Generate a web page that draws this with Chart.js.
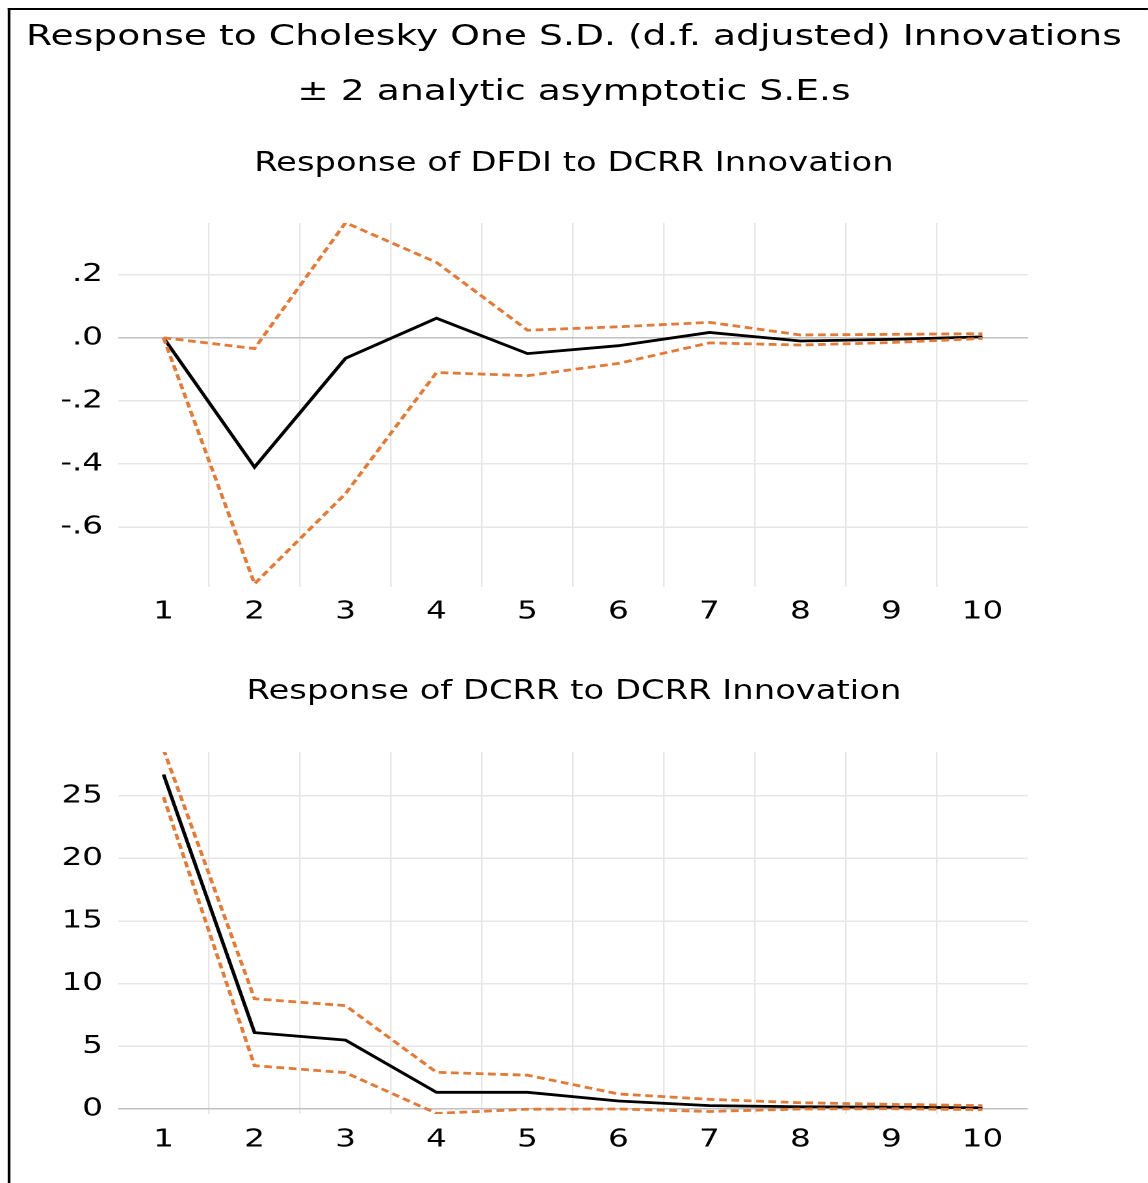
<!DOCTYPE html>
<html>
<head>
<meta charset="utf-8">
<script src="https://cdn.jsdelivr.net/npm/chart.js@4"></script>
<style>
  html, body { margin: 0; padding: 0; background: #fff; }
  body { width: 1148px; height: 1183px; overflow: hidden; }
  /* the reference is stretched sideways, so lay out narrow and scale */
  #page {
    position: absolute; left: 0; top: 0;
    width: 883px; height: 1183px;
    transform: scaleX(1.3); transform-origin: 0 0;
    font-family: "DejaVu Sans", sans-serif; color: #000;
  }
  #frame {
    position: absolute; left: 6px; top: 8px; right: 0; bottom: 0;
    border-left: 2px solid #000; border-top: 2px solid #000;
  }
  .title { position: absolute; left: 0; width: 883px; text-align: center; white-space: nowrap; }
  .box { position: absolute; left: 0; width: 883px; }
</style>
</head>
<body>
<div id="page">
  <div id="frame"></div>
  <div class="title" style="top:18px;font-size:29px;">Response to Cholesky One S.D. (d.f. adjusted) Innovations</div>
  <div class="title" style="top:73px;font-size:29px;">± 2 analytic asymptotic S.E.s</div>
  <div class="title" style="top:147px;font-size:26px;">Response of DFDI to DCRR Innovation</div>
  <div class="box" style="top:213px;height:427px;"><canvas id="topChart"></canvas></div>
  <div class="title" style="top:675px;font-size:26px;">Response of DCRR to DCRR Innovation</div>
  <div class="box" style="top:742px;height:441px;"><canvas id="bottomChart"></canvas></div>
</div>
<script>
// periods after the shock
const periods = ['1', '2', '3', '4', '5', '6', '7', '8', '9', '10'];

// Response of DFDI to DCRR
const dfdiResp  = [0.0, -0.41, -0.065, 0.062, -0.05, -0.025, 0.017, -0.01, -0.005, 0.003];
const dfdiUpper = [0.0, -0.034, 0.365, 0.239, 0.024, 0.035, 0.049, 0.009, 0.011, 0.013];
const dfdiLower = [0.0, -0.78, -0.494, -0.11, -0.12, -0.081, -0.016, -0.023, -0.015, -0.002];
const dfdiTicks = [-0.6, -0.4, -0.2, 0, 0.2];

// Response of DCRR to DCRR
const dcrrResp  = [26.7, 6.1, 5.5, 1.33, 1.33, 0.64, 0.27, 0.18, 0.15, 0.1];
const dcrrUpper = [28.7, 8.8, 8.25, 2.93, 2.7, 1.2, 0.77, 0.5, 0.37, 0.27];
const dcrrLower = [24.9, 3.46, 2.9, -0.35, -0.02, 0.0, -0.2, 0.0, 0.02, -0.05];
const dcrrTicks = [0, 5, 10, 15, 20, 25];

const FONT = { family: '"DejaVu Sans", sans-serif', size: 25 };
const ORANGE = '#e07b39';

function makeChart(canvasId, resp, upper, lower, yTicks, yMin, yMax, xAxisHeight, xPad, fmt) {
    const ctx = document.getElementById(canvasId).getContext('2d');
    return new Chart(ctx, {
        type: 'line',
        data: {
            labels: periods,
            datasets: [
                { data: upper, borderColor: ORANGE, borderWidth: 2.8, borderDash: [6, 3.5] },
                { data: lower, borderColor: ORANGE, borderWidth: 2.8, borderDash: [6, 3.5] },
                { data: resp, borderColor: '#000', borderWidth: 2.8 },
            ],
        },
        options: {
            responsive: true,
            maintainAspectRatio: false,
            devicePixelRatio: 2,
            animation: false,
            layout: { padding: { top: 10, right: 92.3, left: 0, bottom: 0 } },
            elements: { point: { radius: 0 }, line: { tension: 0 } },
            plugins: { legend: { display: false }, tooltip: { enabled: false } },
            scales: {
                x: {
                    type: 'category',
                    offset: true,
                    border: { display: false },
                    grid: {
                        offset: true,
                        drawTicks: false,
                        lineWidth: 1.2,
                        color: c => (c.type !== 'tick' || c.index === 0) ? 'rgba(0,0,0,0)' : '#e6e6e6',
                    },
                    ticks: { font: FONT, color: '#000', padding: xPad, maxRotation: 0, autoSkip: false },
                    afterFit: s => { s.height = xAxisHeight; s.paddingLeft = 0; s.paddingRight = 0; },
                },
                y: {
                    min: yMin,
                    max: yMax,
                    border: { display: false },
                    grid: {
                        drawTicks: false,
                        lineWidth: 1.5,
                        color: c => (c.tick && c.tick.value === 0) ? '#c0c0c0' : '#e6e6e6',
                    },
                    ticks: { font: FONT, color: '#000', padding: 11.6, callback: fmt },
                    afterBuildTicks: s => { s.ticks = yTicks.map(v => ({ value: v })); },
                    afterFit: s => { s.width = 90.8; s.paddingTop = 0; s.paddingBottom = 0; },
                },
            },
        },
    });
}

// EViews style labels: .2  .0  -.2
const fmtDec = v => v.toFixed(1).replace(/^(-?)0\./, '$1.');
const fmtInt = v => String(v);

makeChart('topChart', dfdiResp, dfdiUpper, dfdiLower, dfdiTicks, -0.79, 0.364, 53, 10, fmtDec);
makeChart('bottomChart', dcrrResp, dcrrUpper, dcrrLower, dcrrTicks, -0.4, 28.5, 69, 11, fmtInt);
</script>
</body>
</html>
